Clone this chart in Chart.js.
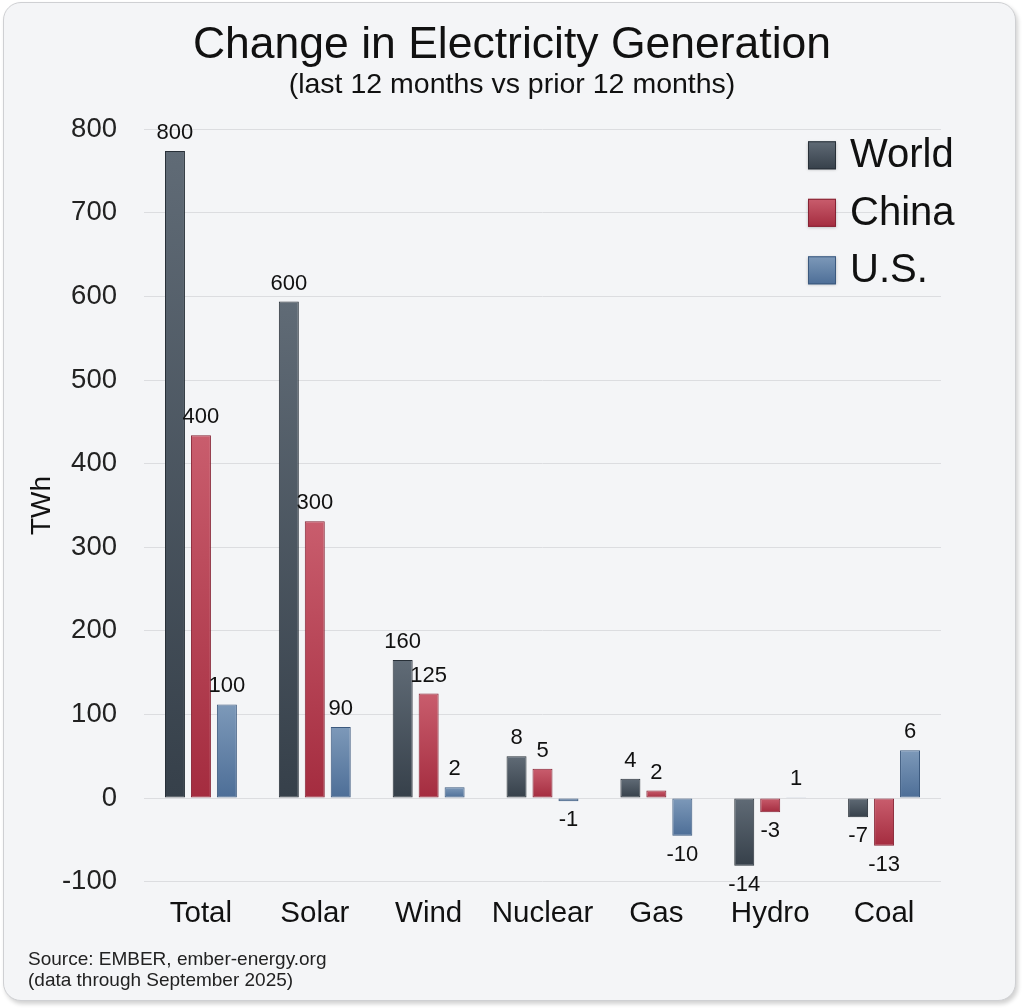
<!DOCTYPE html>
<html>
<head>
<meta charset="utf-8">
<script src="https://cdn.jsdelivr.net/npm/chart.js@4.4.1/dist/chart.umd.min.js"></script>
<style>
    html, body {
        margin: 0;
        padding: 0;
        width: 1024px;
        height: 1008px;
        background: #ffffff;
        overflow: hidden;
        font-family: "Liberation Sans", Arial, sans-serif;
    }
    #card {
        position: absolute;
        left: 3px;
        top: 2px;
        width: 1013px;
        height: 999px;
        box-sizing: border-box;
        background: #f4f5f7;
        border: 1px solid #cfd0d3;
        border-radius: 18px;
        box-shadow: 2px 3px 4px rgba(0, 0, 0, 0.18);
    }
    #chartWrap {
        position: absolute;
        left: 0;
        top: 0;
        width: 1024px;
        height: 1008px;
    }
    #source {
        position: absolute;
        left: 28px;
        top: 948px;
        font-size: 19px;
        line-height: 21px;
        color: #222222;
    }
</style>
</head>
<body>
<div id="card"></div>
<div id="chartWrap"><canvas id="barChart" width="1024" height="1008"></canvas></div>
<div id="source">Source: EMBER, ember-energy.org<br>(data through September 2025)</div>

<script>
// Categories and series (bar heights as drawn in the picture, TWh)
const categories = ['Total', 'Solar', 'Wind', 'Nuclear', 'Gas', 'Hydro', 'Coal'];
const seriesNames = ['World', 'China', 'U.S.'];

const worldValues = [774, 594, 165, 50, 23, -81, -23];
const chinaValues = [434, 331, 125, 35, 9, -17, -57];
const usValues = [112, 85, 13, -4, -45, 1, 57];

// Value labels as printed above/below each bar
const worldLabels = ['800', '600', '160', '8', '4', '-14', '-7'];
const chinaLabels = ['400', '300', '125', '5', '2', '-3', '-13'];
const usLabels = ['100', '90', '2', '-1', '-10', '1', '6'];

// Y axis range
const yMin = -100;
const yMax = 800;
const yStep = 100;

const seriesColors = [
    { top: '#606b76', bottom: '#36404a', border: '#283038' },
    { top: '#c95d6d', bottom: '#a42c3f', border: '#862233' },
    { top: '#7d99b9', bottom: '#4d6e97', border: '#3b597e' }
];

const fontFamily = '"Liberation Sans", Arial, sans-serif';

//Builds a vertical gradient running over the length of each bar.
function barGradient(colorSet) {
    return function (context) {
        var chart = context.chart;
        var yScale = chart.scales.y;
        if (!chart.chartArea || !yScale || context.raw === undefined) {
            return colorSet.bottom;
        }
        var end = yScale.getPixelForValue(context.raw);
        var base = yScale.getPixelForValue(0);
        var top = Math.min(end, base);
        var bottom = Math.max(end, base);
        if (bottom - top < 1) {
            return colorSet.bottom;
        }
        var gradient = chart.ctx.createLinearGradient(0, top, 0, bottom);
        gradient.addColorStop(0, colorSet.top);
        gradient.addColorStop(1, colorSet.bottom);
        return gradient;
    };
}

//Draws the printed value next to the end of each bar.
const valueLabelPlugin = {
    id: 'valueLabels',
    afterDatasetsDraw: function (chart) {
        var ctx = chart.ctx;
        ctx.save();
        ctx.font = '22px ' + fontFamily;
        ctx.fillStyle = '#111111';
        ctx.textAlign = 'center';
        ctx.textBaseline = 'middle';
        chart.data.datasets.forEach(function (dataSet, datasetIndex) {
            var meta = chart.getDatasetMeta(datasetIndex);
            meta.data.forEach(function (bar, index) {
                var value = dataSet.data[index];
                var text = dataSet.valueLabels[index];
                var y = value >= 0 ? bar.y - 18 : bar.y + 19;
                ctx.fillText(text, bar.x, y);
            });
        });
        ctx.restore();
    }
};

//Draws the legend inside the top right corner of the plot.
const cornerLegendPlugin = {
    id: 'cornerLegend',
    afterDraw: function (chart) {
        var ctx = chart.ctx;
        var area = chart.chartArea;
        var boxLeft = area.right - 133;
        var boxSize = 28;
        ctx.save();
        ctx.font = '40px ' + fontFamily;
        ctx.textBaseline = 'middle';
        ctx.textAlign = 'left';
        chart.data.datasets.forEach(function (dataSet, i) {
            var cy = area.top + 26 + i * 57.5;
            var colorSet = seriesColors[i];
            var gradient = ctx.createLinearGradient(0, cy - boxSize / 2, 0, cy + boxSize / 2);
            gradient.addColorStop(0, colorSet.top);
            gradient.addColorStop(1, colorSet.bottom);
            ctx.shadowColor = 'rgba(0,0,0,0.25)';
            ctx.shadowBlur = 3;
            ctx.shadowOffsetY = 1;
            ctx.fillStyle = gradient;
            ctx.fillRect(boxLeft, cy - boxSize / 2, boxSize, boxSize);
            ctx.shadowColor = 'transparent';
            ctx.lineWidth = 1;
            ctx.strokeStyle = colorSet.border;
            ctx.strokeRect(boxLeft + 0.5, cy - boxSize / 2 + 0.5, boxSize - 1, boxSize - 1);
            ctx.fillStyle = '#111111';
            ctx.fillText(dataSet.label, boxLeft + 42, cy + 1);
        });
        ctx.restore();
    }
};

const seriesValues = [worldValues, chinaValues, usValues];
const seriesLabels = [worldLabels, chinaLabels, usLabels];

const dataSets = [];
seriesNames.forEach(function (name, i) {
    dataSets.push({
        label: name,
        data: seriesValues[i],
        valueLabels: seriesLabels[i],
        backgroundColor: barGradient(seriesColors[i]),
        borderColor: seriesColors[i].border,
        borderWidth: 1,
        borderSkipped: false,
        categoryPercentage: 0.684,
        barPercentage: 0.77
    });
});

var barChartControl = document.getElementById('barChart');

var barChart = new Chart(barChartControl, {
    type: 'bar',
    data: {
        labels: categories,
        datasets: dataSets
    },
    plugins: [valueLabelPlugin, cornerLegendPlugin],
    options: {
        responsive: false,
        animation: false,
        devicePixelRatio: 1,
        layout: {
            padding: { top: 13, left: 23, right: 23, bottom: 61 }
        },
        scales: {
            x: {
                grid: { display: false, drawTicks: false },
                border: { display: false },
                ticks: {
                    color: '#111111',
                    font: { family: fontFamily, size: 29.5 },
                    padding: 15,
                    maxRotation: 0
                }
            },
            y: {
                min: yMin,
                max: yMax,
                afterFit: function (scale) {
                    scale.width = 121;
                },
                grid: {
                    color: '#dcdde0',
                    lineWidth: 1,
                    drawTicks: false
                },
                border: { display: false },
                title: {
                    display: true,
                    text: 'TWh',
                    color: '#111111',
                    font: { family: fontFamily, size: 28 },
                    padding: { top: 2, bottom: 0 }
                },
                ticks: {
                    stepSize: yStep,
                    color: '#222222',
                    font: { family: fontFamily, size: 27.5 },
                    padding: 27
                }
            },
            //Empty right hand box so the plot keeps its margin while the title stays centred.
            rightMargin: {
                type: 'linear',
                position: 'right',
                min: 0,
                max: 1,
                afterFit: function (scale) {
                    scale.width = 60;
                },
                grid: { display: false, drawTicks: false },
                border: { display: false },
                ticks: { display: false }
            }
        },
        plugins: {
            legend: { display: false },
            tooltip: { enabled: false },
            title: {
                display: true,
                text: 'Change in Electricity Generation',
                color: '#111111',
                font: { family: fontFamily, size: 44.5, weight: 'normal', lineHeight: 1.1 },
                padding: { top: 8, bottom: 0 }
            },
            subtitle: {
                display: true,
                text: '(last 12 months vs prior 12 months)',
                color: '#111111',
                font: { family: fontFamily, size: 28.5, weight: 'normal', lineHeight: 1.1 },
                padding: { top: 0, bottom: 28 }
            }
        }
    }
});
</script>
</body>
</html>
